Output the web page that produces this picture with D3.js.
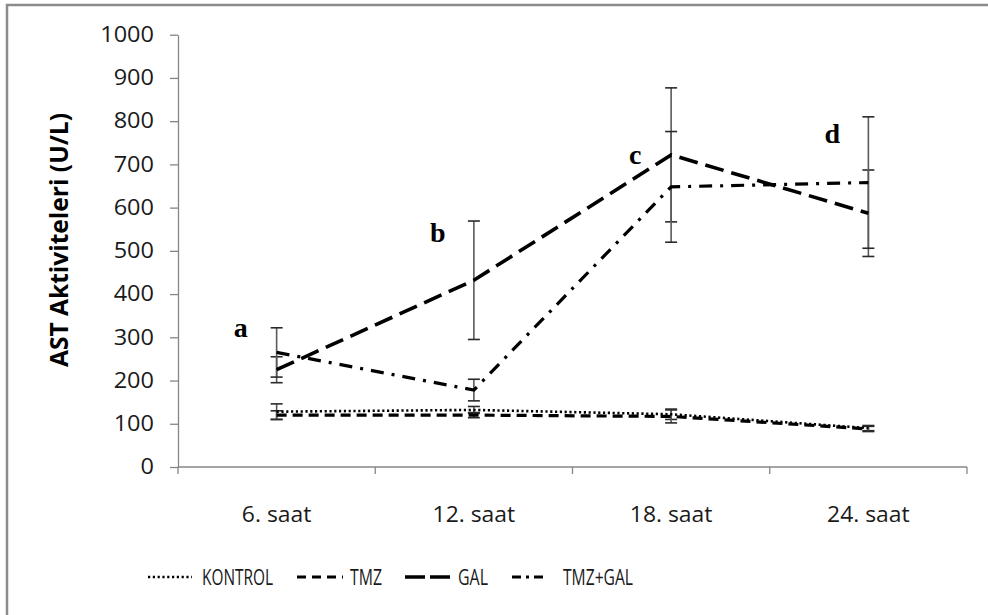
<!DOCTYPE html>
<html>
<head>
<meta charset="utf-8">
<script src="https://cdn.jsdelivr.net/npm/d3@7"></script>
<style>
  html, body { margin: 0; padding: 0; background: #fff; }
  svg { display: block; }
</style>
</head>
<body>
<svg id="chart" width="988" height="615"></svg>
<script>
// Sampling times
const categories = ["6. saat", "12. saat", "18. saat", "24. saat"];

// Group names, in legend order
const groups = ["KONTROL", "TMZ", "GAL", "TMZ+GAL"];

// Mean AST activity (U/L) per group
const kontrolValues = [128, 132, 122, 90];
const tmzValues     = [120, 120, 117, 88];
const galValues     = [225, 432, 722, 587];
const tmzGalValues  = [265, 178, 648, 658];

// Standard errors (U/L)
const kontrolErrors = [18, 8, 12, 6];
const tmzErrors     = [10, 6, 15, 6];
const galErrors     = [30, 137, 155, 100];
const tmzGalErrors  = [57, 25, 128, 152];

// Y axis ticks
const yTicks = [0, 100, 200, 300, 400, 500, 600, 700, 800, 900, 1000];

// Significance letters and the level they sit at
const annotLetters = ["a", "b", "c", "d"];
const annotLevels  = [300, 521, 702, 750];

const series = [
  { name: groups[0], values: kontrolValues, errors: kontrolErrors, dash: "2.2,2.6",  legendDash: "2.2,2.6", width: 2.6 },
  { name: groups[1], values: tmzValues,     errors: tmzErrors,     dash: "10,6",     legendDash: "9,6",     width: 3.2 },
  { name: groups[2], values: galValues,     errors: galErrors,     dash: "19,8",     legendDash: "20,5",    width: 3.6 },
  { name: groups[3], values: tmzGalValues,  errors: tmzGalErrors,  dash: "13,8,3,8", legendDash: "9,5,3,5", width: 3.2 }
];

const svg = d3.select("#chart");

// Stretch text horizontally by a factor, keeping its anchor point
function stretch(sel, factor) {
  sel.each(function () {
    const n = this.getComputedTextLength();
    d3.select(this)
      .attr("textLength", n * factor)
      .attr("lengthAdjust", "spacingAndGlyphs");
  });
}

// Outer chart frame
svg.append("rect")
  .attr("x", 7).attr("y", 5)
  .attr("width", 1000).attr("height", 700)
  .attr("fill", "none")
  .attr("stroke", "#8c8c8c")
  .attr("stroke-width", 2.5);

const x = d3.scaleBand().domain(categories).range([178, 967]).paddingInner(0).paddingOuter(0);
const y = d3.scaleLinear().domain([0, 1000]).range([467, 34.7]);
const cx = c => x(c) + x.bandwidth() / 2;

const axisColor = "#868686";
const textFont = "'Open Sans', 'DejaVu Sans', sans-serif";

// Y axis
const yAxis = svg.append("g")
  .attr("transform", "translate(178,0)")
  .call(d3.axisLeft(y).tickValues(yTicks).tickFormat(d3.format("d"))
    .tickSize(8).tickSizeOuter(0).tickPadding(16));
yAxis.select(".domain").attr("stroke", axisColor).attr("stroke-width", 1.3);
yAxis.selectAll(".tick line").attr("stroke", axisColor).attr("stroke-width", 1.3);
const yLabels = yAxis.selectAll(".tick text")
  .attr("fill", "#1a1a1a")
  .style("font-family", textFont)
  .style("font-size", "21px");
stretch(yLabels, 1.12);

// X axis: line, boundary ticks, centred labels
const xg = svg.append("g");
xg.append("line")
  .attr("x1", x.range()[0]).attr("x2", x.range()[1])
  .attr("y1", y(0)).attr("y2", y(0))
  .attr("stroke", axisColor).attr("stroke-width", 1.3);
const boundaries = categories.map(c => x(c)).concat([x.range()[1]]);
xg.selectAll(".bt").data(boundaries).enter().append("line")
  .attr("x1", d => d).attr("x2", d => d)
  .attr("y1", y(0)).attr("y2", y(0) + 7)
  .attr("stroke", axisColor).attr("stroke-width", 1.3);
const xLabels = xg.selectAll(".xl").data(categories).enter().append("text")
  .attr("x", d => cx(d))
  .attr("y", y(0) + 55)
  .attr("text-anchor", "middle")
  .attr("fill", "#1a1a1a")
  .style("font-family", textFont)
  .style("font-size", "21px")
  .text(d => d);
stretch(xLabels, 1.09);

// Y axis title
const title = svg.append("text")
  .attr("transform", "translate(68,240) rotate(-90)")
  .attr("text-anchor", "middle")
  .attr("fill", "#000")
  .style("font-family", textFont)
  .style("font-weight", "bold")
  .style("font-size", "25px")
  .text("AST Aktiviteleri (U/L)");
title.attr("textLength", 254).attr("lengthAdjust", "spacingAndGlyphs");

// Error bars
const capHalf = 6;
series.forEach(s => {
  const g = svg.append("g");
  categories.forEach((c, i) => {
    const v = s.values[i], e = s.errors[i];
    const px = cx(c);
    g.append("line")
      .attr("x1", px).attr("x2", px)
      .attr("y1", y(v + e)).attr("y2", y(v - e))
      .attr("stroke", "#5a5a5a").attr("stroke-width", 1.6);
    [v + e, v - e].forEach(t => {
      g.append("line")
        .attr("x1", px - capHalf).attr("x2", px + capHalf)
        .attr("y1", y(t)).attr("y2", y(t))
        .attr("stroke", "#2a2a2a").attr("stroke-width", 1.6);
    });
  });
});

// Lines
const line = d3.line().x((d, i) => cx(categories[i])).y(d => y(d));
series.forEach(s => {
  svg.append("path")
    .datum(s.values)
    .attr("d", line)
    .attr("fill", "none")
    .attr("stroke", "#000")
    .attr("stroke-width", s.width)
    .attr("stroke-dasharray", s.dash);
});

// Significance letters
svg.selectAll(".annot").data(annotLetters).enter().append("text")
  .attr("x", (d, i) => cx(categories[i]) - 36)
  .attr("y", (d, i) => y(annotLevels[i]))
  .attr("text-anchor", "middle")
  .attr("fill", "#000")
  .style("font-family", "'Liberation Serif', 'Times New Roman', serif")
  .style("font-weight", "bold")
  .style("font-size", "28px")
  .text(d => d);

// Legend
const legendItems = [
  { s: series[0], x1: 148, x2: 192, tx: 202, w: 71 },
  { s: series[1], x1: 297, x2: 343, tx: 350, w: 32 },
  { s: series[2], x1: 405, x2: 455, tx: 458, w: 30 },
  { s: series[3], x1: 512, x2: 548, tx: 563, w: 70 }
];
const legendY = 577;
const lg = svg.append("g");
legendItems.forEach(it => {
  lg.append("line")
    .attr("x1", it.x1).attr("x2", it.x2)
    .attr("y1", legendY).attr("y2", legendY)
    .attr("stroke", "#000")
    .attr("stroke-width", it.s.width)
    .attr("stroke-dasharray", it.s.legendDash);
  lg.append("text")
    .attr("x", it.tx).attr("y", legendY + 8)
    .attr("fill", "#1a1a1a")
    .style("font-family", textFont)
    .style("font-size", "21px")
    .attr("textLength", it.w)
    .attr("lengthAdjust", "spacingAndGlyphs")
    .text(it.s.name);
});
</script>
</body>
</html>
